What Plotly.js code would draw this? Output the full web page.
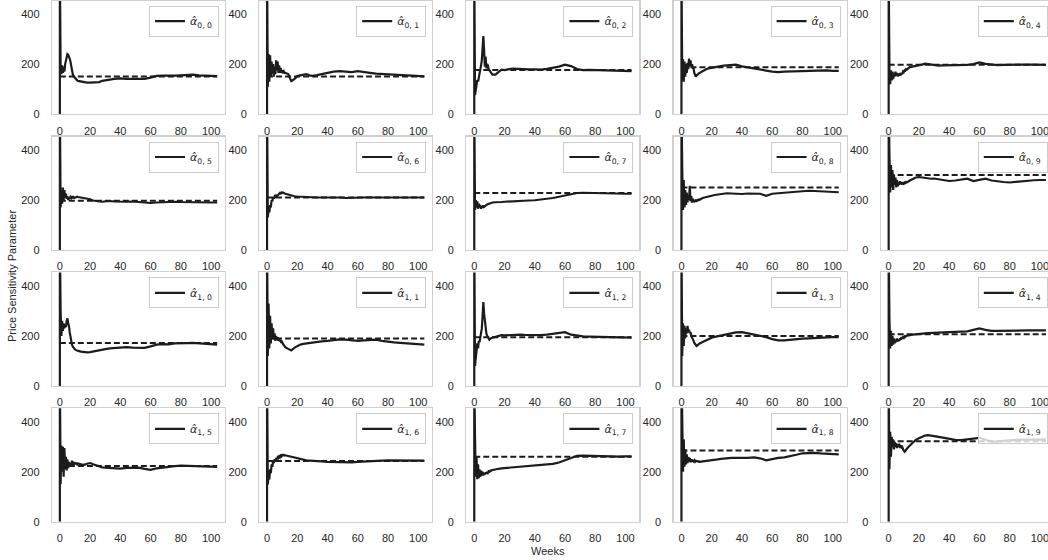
<!DOCTYPE html>
<html>
<head>
<meta charset="utf-8">
<script src="https://cdn.plot.ly/plotly-3.0.1.min.js"></script>
<style>html,body{margin:0;padding:0;overflow:hidden;background:#fff;}</style>
</head>
<body>
<div id="chart"></div>
<script>
// Weeks (x values shared by all panels)
const weeks = [0,0,0.5,1,1.5,2,2.5,3,3.5,4,4.5,5,5.5,6,6.5,7,7.5,8,8.5,9,9.5,10,10.5,11,11.5,12,
  14,16,18,20,22,24,26,28,30,33,36,40,44,48,52,56,60,64,68,72,76,80,84,88,92,96,100,104];

// Estimated price sensitivity trajectories
const alpha_0_0 = [0,600,190,160,195,165,190,170,200,215,230,240,238,232,222,210,185,170,160,152,148,142,140,137,135,133,130,127,126,126,126,127,128,133,136,138,141,143,141,142,143,141,146,153,154,153,154,155,156,158,155,154,153,152];
const alpha_0_1 = [0,600,110,240,130,235,150,210,160,200,150,190,160,215,175,210,165,195,165,185,165,175,168,172,165,165,160,132,140,152,155,158,160,155,153,156,160,165,170,172,170,168,172,170,165,162,160,160,158,157,155,154,152,151];
const alpha_0_2 = [0,600,76,96,120,136,130,145,160,170,195,216,250,312,256,190,230,183,200,195,180,176,172,168,160,158,158,170,178,176,180,181,182,181,180,178,179,179,178,181,184,190,198,192,180,176,177,176,175,175,174,173,173,172];
const alpha_0_3 = [0,600,140,220,130,210,150,200,165,205,180,222,190,215,190,200,185,182,165,152,150,155,160,160,163,165,173,178,183,186,189,190,192,194,195,197,198,191,186,181,178,174,170,168,170,171,172,173,174,175,176,175,173,173];
const alpha_0_4 = [0,600,180,120,175,135,170,140,165,150,170,155,165,150,162,155,160,158,165,160,170,168,175,174,180,178,188,190,193,196,198,202,200,196,195,194,195,195,196,196,197,200,207,201,197,196,197,198,198,197,198,198,198,197];
const alpha_0_5 = [0,600,170,230,185,250,200,240,210,225,205,215,200,210,205,212,208,215,210,212,208,210,212,214,213,212,210,208,205,203,198,195,194,193,195,196,194,192,193,194,192,190,188,190,192,192,193,192,191,190,191,190,190,190];
const alpha_0_6 = [0,600,130,160,150,180,170,200,195,210,205,215,212,218,215,220,222,225,228,226,230,228,230,227,225,225,222,218,215,214,213,212,211,210,210,210,210,211,212,210,208,209,211,212,211,210,210,211,212,211,210,211,211,210];
const alpha_0_7 = [0,600,160,200,170,195,165,185,170,180,165,175,170,178,172,176,178,180,182,183,185,186,188,188,189,190,191,190,192,193,194,194,195,196,197,198,198,199,201,204,208,213,218,223,228,229,228,227,226,227,226,225,225,225];
const alpha_0_8 = [0,600,330,160,280,170,240,180,230,190,220,200,257,195,215,190,205,192,200,195,198,196,200,199,202,201,208,212,215,217,220,222,225,226,227,226,224,224,226,227,225,217,225,227,229,232,234,237,237,236,235,234,232,231];
const alpha_0_9 = [0,600,390,230,340,250,320,240,300,260,290,250,280,255,270,260,275,265,270,262,268,265,270,268,272,270,278,285,290,292,290,288,286,285,286,283,278,276,278,283,285,276,282,285,278,274,272,270,273,276,278,279,280,280];
const alpha_1_0 = [0,600,300,200,260,220,250,230,245,235,260,270,250,240,215,190,175,165,158,152,148,146,144,142,141,140,137,135,134,135,138,140,143,145,147,150,152,154,155,153,154,152,158,165,167,166,170,172,171,172,170,169,167,165];
const alpha_1_1 = [0,600,120,330,150,280,170,250,190,230,185,210,180,200,185,195,180,190,178,185,172,175,168,165,160,155,148,142,152,160,165,168,170,172,175,176,178,180,183,186,185,183,180,182,184,185,180,176,174,172,170,168,166,165];
const alpha_1_2 = [0,600,80,110,140,170,150,180,175,195,200,230,280,335,290,250,225,210,200,195,188,185,188,190,192,193,196,200,203,202,203,204,205,206,205,204,203,202,203,205,208,213,215,205,200,198,197,196,196,195,195,194,194,193];
const alpha_1_3 = [0,600,120,250,160,240,190,230,210,240,215,225,210,215,200,195,185,180,172,168,163,160,162,165,168,170,176,182,188,193,196,199,202,205,207,210,214,215,210,206,203,195,187,182,182,185,187,189,190,192,194,195,195,195];
const alpha_1_4 = [0,600,270,150,220,160,200,165,190,170,185,175,190,178,185,180,190,185,195,188,195,192,198,196,200,200,203,205,207,208,210,210,211,212,212,213,214,215,216,217,218,224,230,224,220,220,221,222,222,223,222,222,223,222];
const alpha_1_5 = [0,600,150,305,200,300,180,295,210,260,205,250,215,240,220,235,222,245,225,240,228,238,230,236,230,233,230,228,232,235,230,225,220,218,217,215,214,213,216,218,217,212,208,214,218,220,223,225,224,223,222,221,220,220];
const alpha_1_6 = [0,600,150,190,170,210,195,230,220,245,235,250,240,255,250,258,255,262,258,265,262,270,266,268,265,266,263,260,257,255,250,248,246,245,245,243,242,240,239,238,237,238,240,242,243,244,245,246,246,245,245,246,245,245];
const alpha_1_7 = [0,600,340,180,260,170,230,175,210,180,205,185,200,185,195,190,198,192,200,196,202,200,204,203,206,207,210,212,214,215,216,217,218,219,220,221,223,225,227,229,232,237,245,256,264,265,264,263,262,262,262,261,262,262];
const alpha_1_8 = [0,600,420,200,330,220,290,230,270,235,260,240,255,238,250,240,248,242,246,240,244,242,243,241,242,240,242,243,245,247,248,250,252,254,255,256,256,255,256,258,254,246,252,256,258,262,268,274,276,276,274,272,271,270];
const alpha_1_9 = [0,600,210,360,260,340,300,330,290,320,300,315,295,310,300,312,295,305,298,300,290,285,280,283,288,292,305,318,328,334,340,345,347,346,343,340,336,333,328,327,330,333,336,328,321,322,325,327,328,329,329,330,330,329];

// True parameter values (dashed reference lines)
const trueValues = [150,150,176,187,197, 197,210,228,250,300, 172,190,195,200,207, 223,243,260,285,322];

// Panel labels
const labels = ['0, 0','0, 1','0, 2','0, 3','0, 4','0, 5','0, 6','0, 7','0, 8','0, 9',
                '1, 0','1, 1','1, 2','1, 3','1, 4','1, 5','1, 6','1, 7','1, 8','1, 9'];
const series = [alpha_0_0,alpha_0_1,alpha_0_2,alpha_0_3,alpha_0_4,alpha_0_5,alpha_0_6,alpha_0_7,alpha_0_8,alpha_0_9,
                alpha_1_0,alpha_1_1,alpha_1_2,alpha_1_3,alpha_1_4,alpha_1_5,alpha_1_6,alpha_1_7,alpha_1_8,alpha_1_9];

const xTicks = [0,20,40,60,80,100];
const yTicks = [0,200,400];

const W = 1054, H = 560;
const traces = [];
const layout = {
  width: W, height: H,
  margin: {l:0, r:0, t:0, b:0},
  paper_bgcolor: 'white', plot_bgcolor: 'white',
  showlegend: true,
  font: {family: 'Liberation Sans, Arial, sans-serif', color: '#262626', size: 11},
  annotations: [
    {text: 'Price Sensitivity Parameter', xref: 'paper', yref: 'paper', x: 12/W, y: 1 - 276/H,
     xanchor: 'center', yanchor: 'middle', textangle: -90, showarrow: false,
     font: {family: 'Liberation Sans, Arial, sans-serif', size: 11, color: '#262626'}},
    {text: 'Weeks', xref: 'paper', yref: 'paper', x: 548/W, y: 1 - 551/H,
     xanchor: 'center', yanchor: 'middle', showarrow: false,
     font: {family: 'Liberation Sans, Arial, sans-serif', size: 11, color: '#262626'}}
  ]
};

for (let i = 0; i < 20; i++) {
  const r = Math.floor(i / 5), c = i % 5;
  const sfx = i === 0 ? '' : String(i + 1);
  const left = 52 + c * 207.2, right = left + 173;
  const top = 0.6 + r * 135.9, bottom = top + 113.5;
  const xd = [left / W, Math.min(right / W, 1)];
  const yd = [1 - bottom / H, 1 - top / H];
  const legName = 'legend' + sfx;

  traces.push({
    x: weeks, y: series[i], type: 'scatter', mode: 'lines',
    xaxis: 'x' + sfx, yaxis: 'y' + sfx,
    line: {color: '#1c1c1c', width: 2.2},
    name: '<i>α̂</i><sub>' + labels[i] + '</sub>',
    legend: legName, showlegend: true, hoverinfo: 'skip'
  });
  traces.push({
    x: [weeks[0], weeks[weeks.length - 1]], y: [trueValues[i], trueValues[i]],
    type: 'scatter', mode: 'lines',
    xaxis: 'x' + sfx, yaxis: 'y' + sfx,
    line: {color: '#1c1c1c', width: 2, dash: '6px,3px'},
    showlegend: false, hoverinfo: 'skip'
  });

  const axCommon = {
    showgrid: false, zeroline: false, showline: true, mirror: true,
    linecolor: '#d0d0d0', linewidth: 1.25, ticks: '',
    tickfont: {family: 'Liberation Sans, Arial, sans-serif', size: 11, color: '#262626'},
    fixedrange: true
  };
  layout['xaxis' + sfx] = Object.assign({}, axCommon, {
    domain: xd, anchor: 'y' + sfx, range: [-5.2, 109.2], tickvals: xTicks, ticklabelstandoff: 6
  });
  layout['yaxis' + sfx] = Object.assign({}, axCommon, {
    domain: yd, anchor: 'x' + sfx, range: [0, 454], tickvals: yTicks, ticklabelstandoff: 9
  });
  layout[legName] = {
    x: (right - 6) / W, xanchor: 'right', y: 1 - (top + 5) / H, yanchor: 'top',
    bgcolor: 'rgba(255,255,255,0.8)', bordercolor: '#cccccc', borderwidth: 1,
    font: {family: 'DejaVu Sans', size: 11, color: '#262626'},
    itemwidth: 30, tracegroupgap: 0
  };
}

Plotly.newPlot('chart', traces, layout, {staticPlot: true, displayModeBar: false});
</script>
</body>
</html>
